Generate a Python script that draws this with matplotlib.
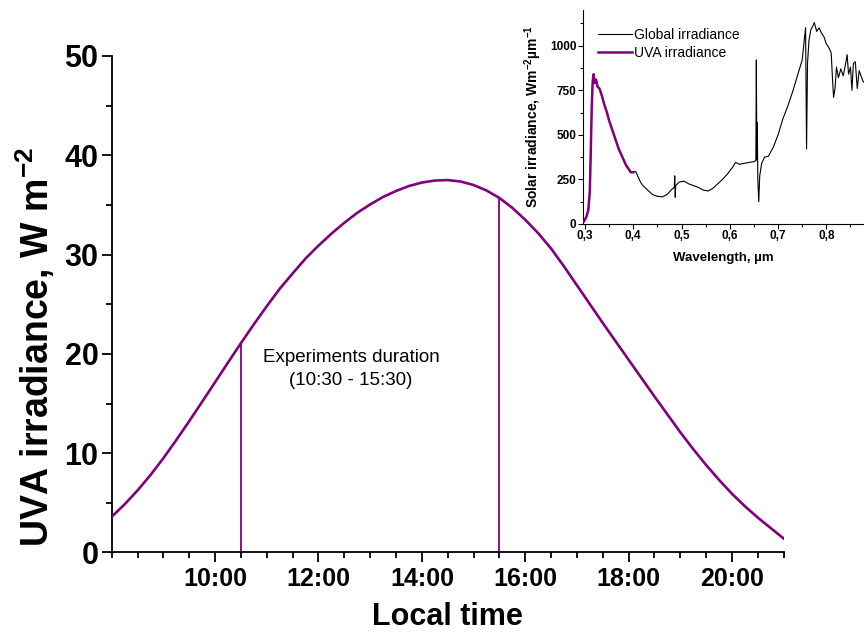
import matplotlib
matplotlib.use("Agg")
import matplotlib.pyplot as plt
from matplotlib.ticker import MultipleLocator, FixedLocator

# ---------------- data ----------------
time_h = [8.0, 8.25, 8.5, 8.75, 9.0, 9.25, 9.5, 9.75, 10.0, 10.25, 10.5, 10.75,
          11.0, 11.25, 11.5, 11.75, 12.0, 12.25, 12.5, 12.75, 13.0, 13.25, 13.5,
          13.75, 14.0, 14.25, 14.5, 14.75, 15.0, 15.25, 15.5, 15.75, 16.0, 16.25,
          16.5, 16.75, 17.0, 17.25, 17.5, 17.75, 18.0, 18.25, 18.5, 18.75, 19.0,
          19.25, 19.5, 19.75, 20.0, 20.25, 20.5, 20.75, 21.0]
uva_irr = [3.6, 4.85, 6.25, 7.8, 9.5, 11.33, 13.23, 15.18, 17.15, 19.13, 21.08, 22.98,
           24.8, 26.55, 28.1, 29.6, 30.9, 32.1, 33.2, 34.2, 35.05, 35.8, 36.4,
           36.9, 37.25, 37.45, 37.5, 37.35, 37.0, 36.45, 35.7, 34.7, 33.5, 32.15,
           30.6, 28.8, 26.9, 25.0, 23.1, 21.25, 19.4, 17.55, 15.7, 13.9, 12.1,
           10.4, 8.8, 7.3, 5.9, 4.65, 3.5, 2.45, 1.4]
exp_times = [10.5, 15.5]
exp_values = [21.08, 35.7]
time_ticks = [10, 12, 14, 16, 18, 20]
time_tick_labels = ["10:00", "12:00", "14:00", "16:00", "18:00", "20:00"]

global_wl = [0.298, 0.303, 0.307, 0.310, 0.312, 0.314, 0.316, 0.318, 0.320, 0.323,
             0.326, 0.330, 0.335, 0.340, 0.345, 0.350, 0.355, 0.360, 0.365, 0.370,
             0.375, 0.380, 0.385, 0.390, 0.395, 0.400, 0.405, 0.410, 0.415, 0.420,
             0.430, 0.440, 0.450, 0.460, 0.470, 0.480, 0.485, 0.486, 0.487, 0.488,
             0.495, 0.505, 0.515, 0.525, 0.535, 0.545, 0.555, 0.565, 0.575, 0.585,
             0.595, 0.605, 0.612, 0.620, 0.630, 0.640, 0.650, 0.654, 0.655, 0.656,
             0.657, 0.658, 0.660, 0.662, 0.666, 0.672, 0.680, 0.690, 0.700, 0.710,
             0.720, 0.730, 0.740, 0.750, 0.755, 0.757, 0.759, 0.761, 0.764, 0.768,
             0.772, 0.775, 0.780, 0.785, 0.790, 0.795, 0.800, 0.805, 0.810, 0.813,
             0.815, 0.818, 0.821, 0.825, 0.830, 0.835, 0.840, 0.843, 0.846, 0.850,
             0.853, 0.856, 0.860, 0.864, 0.868, 0.872, 0.876, 0.880]
global_val = [15, 40, 80, 180, 400, 650, 800, 840, 790, 810,
              770, 760, 720, 670, 630, 580, 540, 500, 460, 420,
              390, 360, 330, 310, 290, 290, 295, 265, 235, 215,
              190, 165, 155, 152, 165, 195, 205, 270, 150, 215,
              235, 240, 225, 215, 205, 190, 185, 200, 225, 250,
              280, 315, 345, 335, 340, 345, 350, 355, 920, 360,
              570, 250, 125, 270, 340, 375, 380, 430, 500, 590,
              660, 740, 830, 920, 1050, 1100, 420, 900, 1030, 1090,
              1110, 1130, 1080, 1100, 1070, 1050, 1010, 990, 960, 800,
              710, 760, 880, 820, 870, 830, 900, 950, 840, 880,
              750, 900, 910, 760, 860, 830, 800, 790]
uva_wl = [0.298, 0.303, 0.307, 0.310, 0.312, 0.314, 0.316, 0.318, 0.320, 0.323,
          0.326, 0.330, 0.335, 0.340, 0.345, 0.350, 0.355, 0.360, 0.365, 0.370,
          0.375, 0.380, 0.385, 0.390, 0.395, 0.400]
uva_val = [15, 40, 80, 180, 400, 650, 800, 840, 790, 810,
           770, 760, 720, 670, 630, 580, 540, 500, 460, 420,
           390, 360, 330, 310, 290, 290]
wl_ticks = [0.3, 0.4, 0.5, 0.6, 0.7, 0.8]
wl_tick_labels = ["0,3", "0,4", "0,5", "0,6", "0,7", "0,8"]
irr_ticks = [0, 250, 500, 750, 1000]

PURPLE = "#800080"

plt.rcParams["font.family"] = ["Liberation Sans", "DejaVu Sans"]
plt.rcParams["mathtext.fontset"] = "custom"
plt.rcParams["mathtext.rm"] = "Liberation Sans"
plt.rcParams["mathtext.bf"] = "Liberation Sans:bold"

fig = plt.figure(figsize=(8.64, 6.37), dpi=100)
ax = fig.add_axes([0.1293, 0.1327, 0.7778, 0.7795])

ax.plot(time_h, uva_irr, color=PURPLE, lw=1.9, zorder=3)
ax.vlines(exp_times, 0, exp_values, color=PURPLE, lw=1.3, zorder=2)
ax.text(12.63, 18.5, "Experiments duration\n(10:30 - 15:30)", ha="center", va="center",
        fontsize=13.5, linespacing=1.45)

ax.set_xlim(8.0, 21.0)
ax.set_ylim(0, 50)
for s in ["top", "right"]:
    ax.spines[s].set_visible(False)
for s in ["left", "bottom"]:
    ax.spines[s].set_linewidth(1.3)
ax.xaxis.set_major_locator(FixedLocator(time_ticks))
ax.set_xticklabels(time_tick_labels)
ax.xaxis.set_minor_locator(MultipleLocator(0.5))
ax.yaxis.set_major_locator(MultipleLocator(10))
ax.yaxis.set_minor_locator(MultipleLocator(5))
ax.tick_params(which="major", direction="out", length=7, width=1.3)
ax.tick_params(axis="y", which="major", pad=2.5)
ax.tick_params(which="minor", direction="out", length=4.5, width=1.3)
for lab in ax.get_xticklabels():
    lab.set_fontweight("bold")
    lab.set_fontsize(18)
for lab in ax.get_yticklabels():
    lab.set_fontweight("bold")
    lab.set_fontsize(22)
ax.set_xlabel("Local time", fontsize=22, fontweight="bold", labelpad=8)
ax.set_ylabel("UVA irradiance, W m$^{\\mathbf{-2}}$", fontsize=27, fontweight="bold")
ax.yaxis.set_label_coords(-0.081, 0.414)

# ---------------- inset ----------------
ins = fig.add_axes([0.6748, 0.6484, 0.3252, 0.3359])
ins.plot(global_wl, global_val, color="black", lw=0.8, label="Global irradiance", zorder=2)
ins.plot(uva_wl, uva_val, color=PURPLE, lw=1.8, label="UVA irradiance", zorder=3)
ins.set_xlim(0.296, 0.878)
ins.set_ylim(0, 1200)
for s in ["top", "right"]:
    ins.spines[s].set_visible(False)
ins.xaxis.set_major_locator(FixedLocator(wl_ticks))
ins.set_xticklabels(wl_tick_labels)
ins.xaxis.set_minor_locator(MultipleLocator(0.05))
ins.yaxis.set_major_locator(FixedLocator(irr_ticks))
ins.yaxis.set_minor_locator(MultipleLocator(125))
ins.tick_params(which="major", direction="out", length=3.5, width=0.8, labelsize=8.5, pad=1.2)
ins.tick_params(which="minor", direction="out", length=2, width=0.8)
for lab in ins.get_xticklabels() + ins.get_yticklabels():
    lab.set_fontweight("bold")
ins.set_xlabel("Wavelength, µm", fontsize=9.5, fontweight="bold", labelpad=7)
ins.set_ylabel("Solar irradiance, Wm$^{\\mathbf{-2}}$µm$^{\\mathbf{-1}}$", fontsize=10,
               fontweight="bold", labelpad=4)
ins.legend(loc="upper left", bbox_to_anchor=(0.02, 0.96), frameon=False, fontsize=10,
           handlelength=2.4, handletextpad=0.15, borderaxespad=0.3, labelspacing=0.25)

fig.savefig("out.png", dpi=100)
